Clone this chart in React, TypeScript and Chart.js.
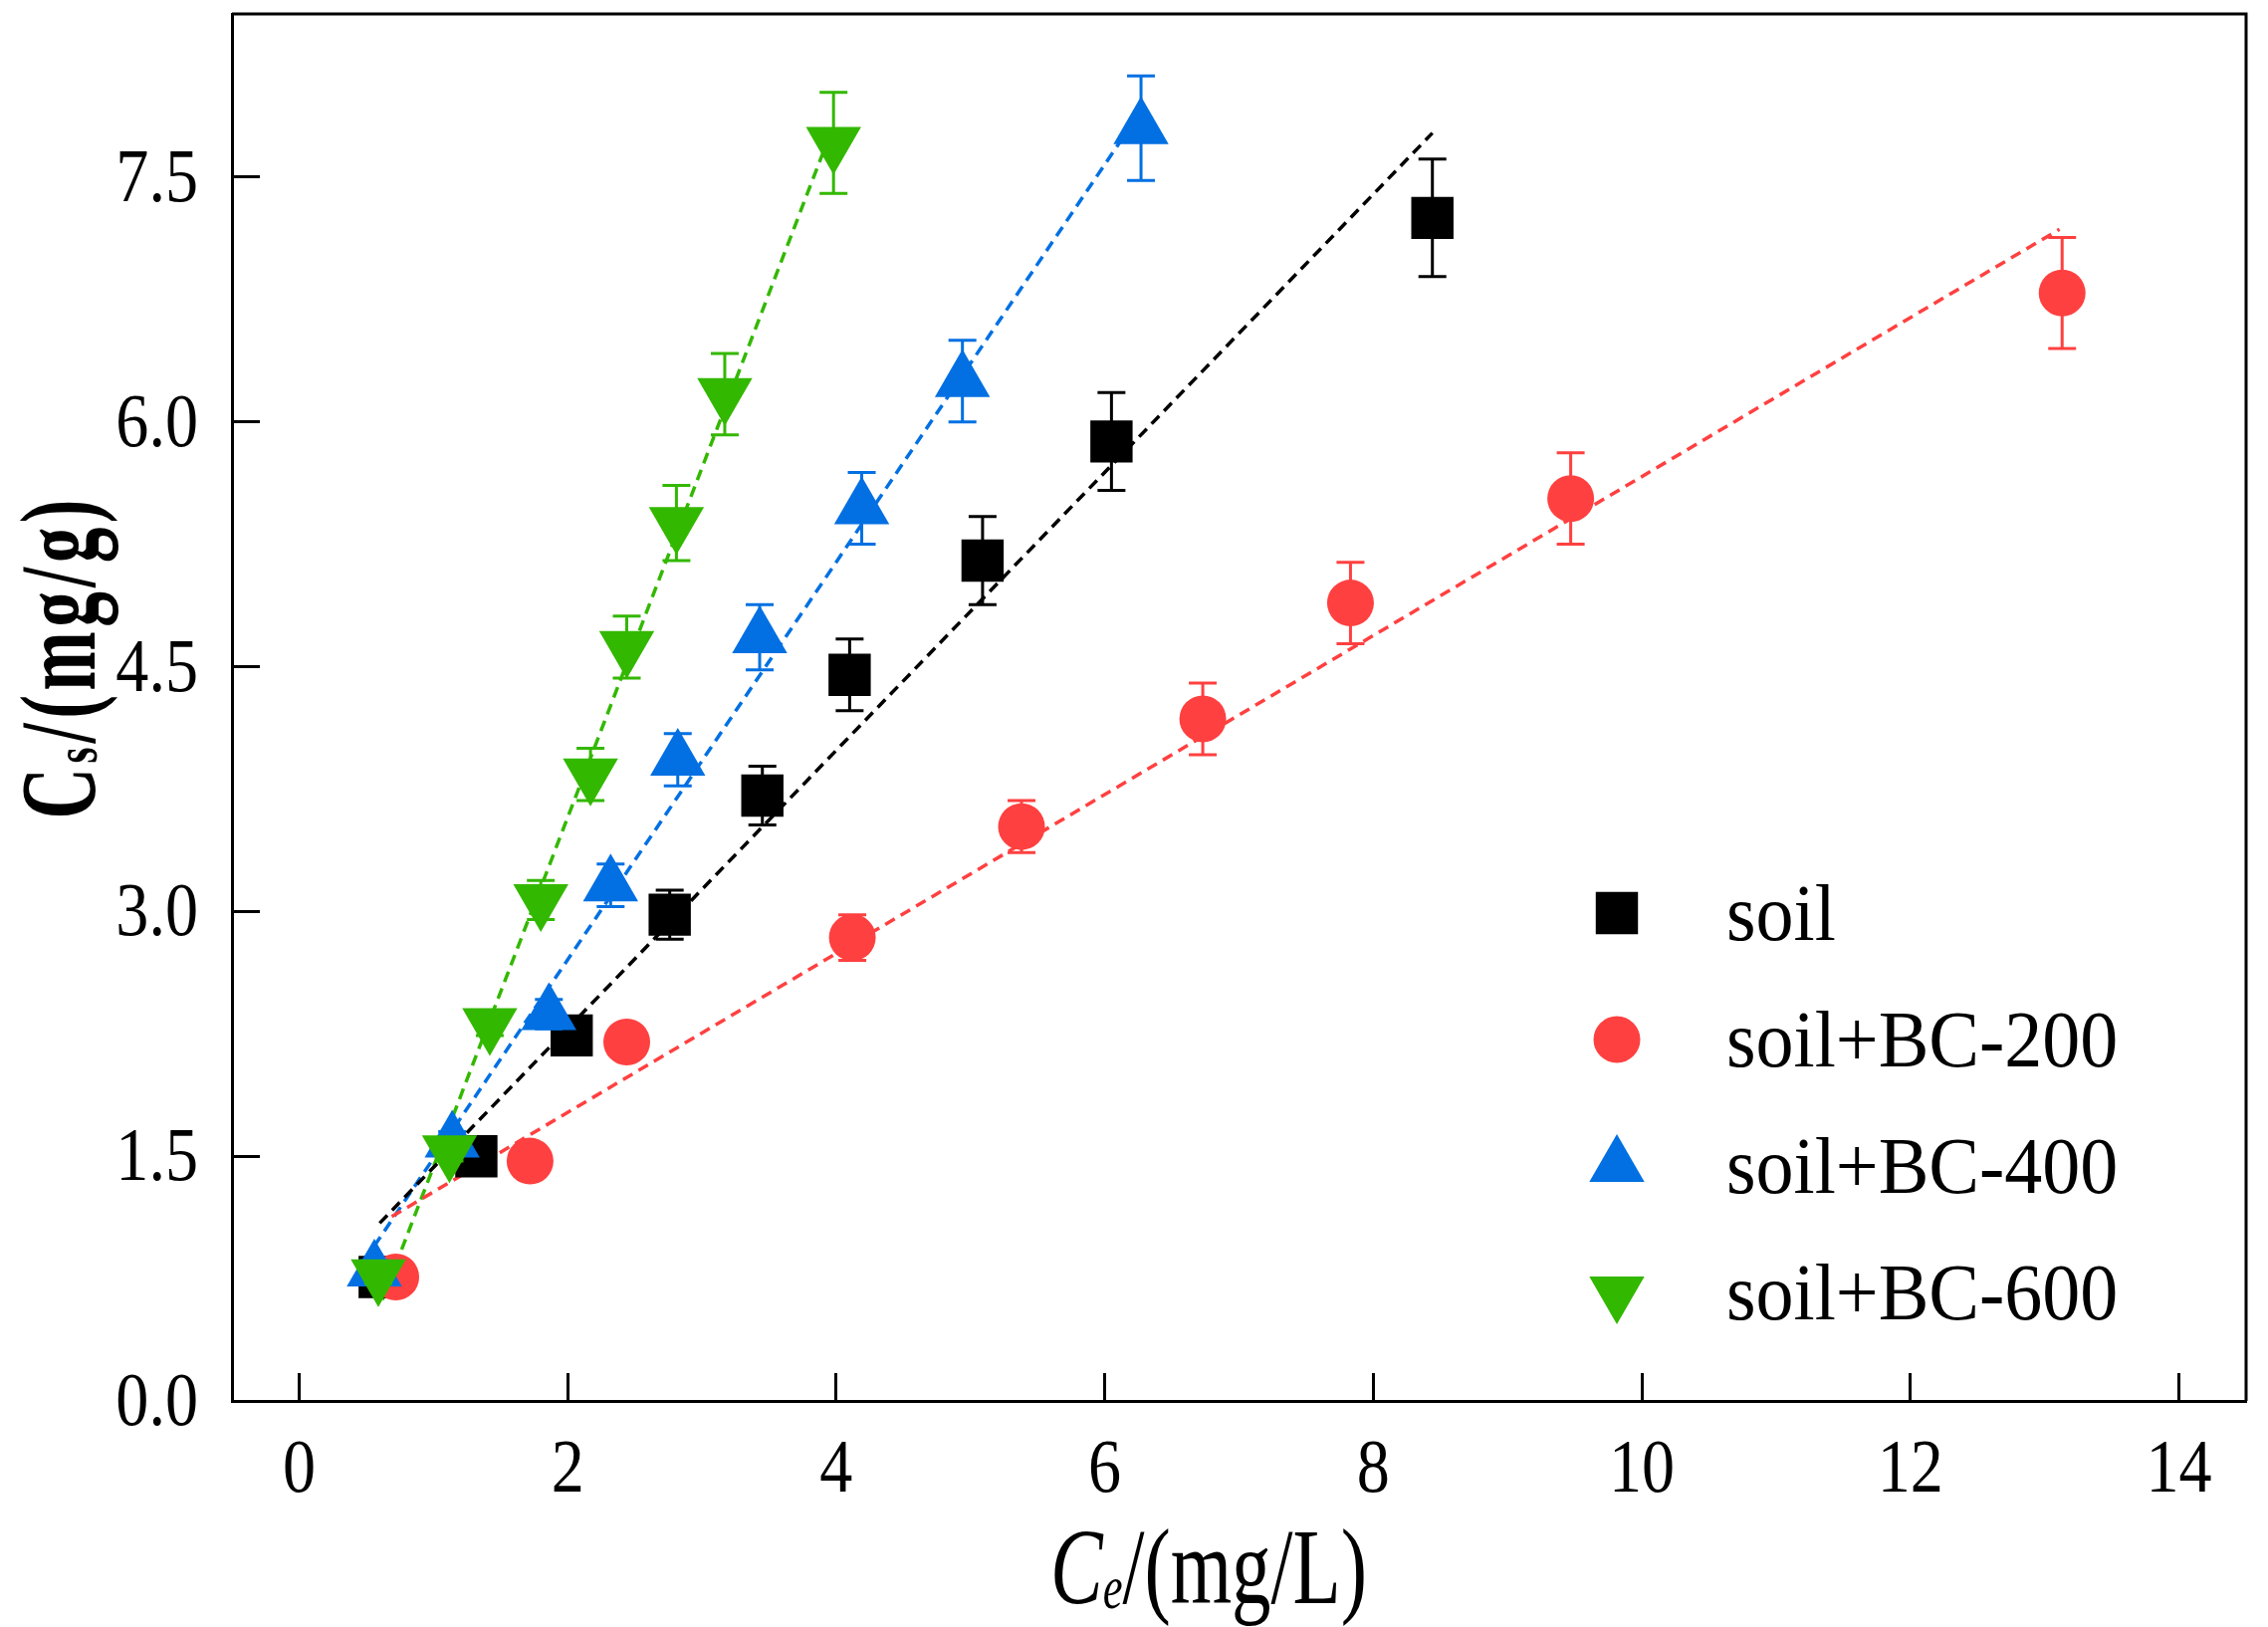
import { useEffect, useRef } from "react";
import { Chart, registerables } from "chart.js";
import { drawPoint } from "chart.js/helpers";

Chart.register(...registerables);

// Ce (mg/L), Cs (mg/g) and error for each treatment
const soilX = [0.6, 1.32, 2.03, 2.76, 3.45, 4.1, 5.09, 6.05, 8.44];
const soilY = [0.76, 1.5, 2.24, 2.98, 3.71, 4.45, 5.15, 5.88, 7.25];
const soilErr = [0.06, 0.06, 0.1, 0.15, 0.18, 0.22, 0.27, 0.3, 0.36];

const bc200X = [0.72, 1.72, 2.44, 4.12, 5.38, 6.73, 7.83, 9.47, 13.13];
const bc200Y = [0.76, 1.47, 2.2, 2.84, 3.52, 4.18, 4.89, 5.53, 6.79];
const bc200Err = [0.05, 0.06, 0.08, 0.14, 0.16, 0.22, 0.25, 0.28, 0.34];

const bc400X = [0.56, 1.14, 1.86, 2.32, 2.82, 3.43, 4.19, 4.94, 6.27];
const bc400Y = [0.8, 1.59, 2.37, 3.16, 3.93, 4.68, 5.47, 6.25, 7.8];
const bc400Err = [0.06, 0.06, 0.09, 0.13, 0.16, 0.2, 0.22, 0.25, 0.32];

const bc600X = [0.59, 1.12, 1.42, 1.8, 2.17, 2.44, 2.81, 3.17, 3.98];
const bc600Y = [0.77, 1.53, 2.31, 3.07, 3.84, 4.62, 5.38, 6.17, 7.71];
const bc600Err = [0.05, 0.06, 0.07, 0.12, 0.16, 0.19, 0.23, 0.25, 0.31];

// fitted lines (dashed), end points
const soilFitX = [0.6, 8.44];
const soilFitY = [1.09, 7.77];
const bc200FitX = [0.69, 13.11];
const bc200FitY = [1.13, 7.18];
const bc400FitX = [0.56, 6.15];
const bc400FitY = [0.95, 7.76];
const bc600FitX = [0.62, 3.93];
const bc600FitY = [0.62, 7.71];

const xTicks = [0, 2, 4, 6, 8, 10, 12, 14];
const yTicks = [0, 1.5, 3, 4.5, 6, 7.5];

const SERIF = "'Liberation Serif', 'Times New Roman', serif";

const series = [
  { label: "soil", x: soilX, y: soilY, err: soilErr, fx: soilFitX, fy: soilFitY, color: "#000000", style: "rect", radius: 30, rotation: 0 },
  { label: "soil+BC-200", x: bc200X, y: bc200Y, err: bc200Err, fx: bc200FitX, fy: bc200FitY, color: "#ff4040", style: "circle", radius: 23.5, rotation: 0 },
  { label: "soil+BC-400", x: bc400X, y: bc400Y, err: bc400Err, fx: bc400FitX, fy: bc400FitY, color: "#0270e2", style: "triangle", radius: 32, rotation: 0 },
  { label: "soil+BC-600", x: bc600X, y: bc600Y, err: bc600Err, fx: bc600FitX, fy: bc600FitY, color: "#33b800", style: "triangle", radius: 32, rotation: 180 },
];

type Run = { text: string; font: string; dy: number };

function runsWidth(ctx: CanvasRenderingContext2D, runs: Run[]) {
  let w = 0;
  for (const r of runs) {
    ctx.font = r.font;
    w += ctx.measureText(r.text).width;
  }
  return w;
}

function charCount(runs: Run[]) {
  return runs.reduce((n, r) => n + r.text.length, 0);
}

// draws text pieces on one baseline, squeezed horizontally by sx,
// with optional extra space (in output px) between characters
function drawRuns(ctx: CanvasRenderingContext2D, runs: Run[], x: number, y: number, sx: number, spacing = 0) {
  ctx.save();
  ctx.translate(x, y);
  ctx.scale(sx, 1);
  ctx.fillStyle = "#000";
  ctx.textBaseline = "alphabetic";
  ctx.textAlign = "left";
  let cx = 0;
  for (const r of runs) {
    ctx.font = r.font;
    if (spacing === 0) {
      ctx.fillText(r.text, cx, r.dy);
      cx += ctx.measureText(r.text).width;
    } else {
      for (const ch of r.text) {
        ctx.fillText(ch, cx, r.dy);
        cx += ctx.measureText(ch).width + spacing / sx;
      }
    }
  }
  ctx.restore();
}

const TICK_FONT = `76px ${SERIF}`;
const TICK_SX = 0.87;

const errorBars = {
  id: "errorBars",
  beforeDatasetDraw(chart: any, args: any) {
    const ds = chart.data.datasets[args.index];
    if (!ds.errors) return;
    const ctx = chart.ctx;
    const yScale = chart.scales.y;
    ctx.save();
    ctx.strokeStyle = ds.backgroundColor;
    ctx.lineWidth = 3;
    args.meta.data.forEach((pt: any, j: number) => {
      const v = ds.data[j].y;
      const e = ds.errors[j];
      const top = yScale.getPixelForValue(v + e);
      const bot = yScale.getPixelForValue(v - e);
      ctx.beginPath();
      ctx.moveTo(pt.x, top);
      ctx.lineTo(pt.x, bot);
      ctx.moveTo(pt.x - 14, top);
      ctx.lineTo(pt.x + 14, top);
      ctx.moveTo(pt.x - 14, bot);
      ctx.lineTo(pt.x + 14, bot);
      ctx.stroke();
    });
    ctx.restore();
  },
};

const decorations = {
  id: "decorations",
  afterDraw(chart: any) {
    const ctx: CanvasRenderingContext2D = chart.ctx;
    const { left, right, top, bottom } = chart.chartArea;

    // box: top and right edges
    ctx.save();
    ctx.strokeStyle = "#000";
    ctx.lineWidth = 3;
    ctx.beginPath();
    ctx.moveTo(left, top);
    ctx.lineTo(right, top);
    ctx.lineTo(right, bottom);
    ctx.stroke();
    ctx.restore();

    // tick labels (narrow serif like the original)
    const xs = chart.scales.x;
    xs.ticks.forEach((t: any) => {
      const runs = [{ text: String(t.value), font: TICK_FONT, dy: 0 }];
      const w = runsWidth(ctx, runs) * TICK_SX;
      drawRuns(ctx, runs, xs.getPixelForValue(t.value) - w / 2, bottom + 91, TICK_SX);
    });
    const ys = chart.scales.y;
    ys.ticks.forEach((t: any) => {
      const runs = [{ text: Number(t.value).toFixed(1), font: TICK_FONT, dy: 0 }];
      const w = runsWidth(ctx, runs) * TICK_SX;
      drawRuns(ctx, runs, left - 34 - w, ys.getPixelForValue(t.value) + 24, TICK_SX);
    });

    // x title: Ce/(mg/L)
    const xRuns: Run[] = [
      { text: "C", font: `italic 108px ${SERIF}`, dy: 0 },
      { text: "e", font: `italic 61px ${SERIF}`, dy: 5 },
      { text: "/(mg/L)", font: `108px ${SERIF}`, dy: 0 },
    ];
    const xw = 318;
    const xsx = xw / runsWidth(ctx, xRuns);
    drawRuns(ctx, xRuns, 1214 - xw / 2, 1610, xsx);

    // y title: Cs/(mg/g), bold, narrow glyphs with loose spacing, rotated
    const yRuns: Run[] = [
      { text: "C", font: `bold 108px ${SERIF}`, dy: 0 },
      { text: "s", font: `bold 62px ${SERIF}`, dy: 2 },
      { text: "/(mg/g)", font: `bold 108px ${SERIF}`, dy: 0 },
    ];
    const yw = 321;
    const ysx = 0.66;
    const ygap = (yw - runsWidth(ctx, yRuns) * ysx) / (charCount(yRuns) - 1);
    ctx.save();
    ctx.translate(95, 662);
    ctx.rotate(-Math.PI / 2);
    drawRuns(ctx, yRuns, -yw / 2, 0, ysx, ygap);
    ctx.restore();

    // legend
    const items = chart.data.datasets.filter((d: any) => d.errors);
    items.forEach((d: any, i: number) => {
      const cy = 917 + i * 127;
      ctx.save();
      ctx.fillStyle = d.backgroundColor;
      drawPoint(ctx, { pointStyle: d.pointStyle, radius: d.pointRadius, rotation: d.pointRotation, borderWidth: 0 } as any, 1624, cy);
      ctx.restore();
      drawRuns(ctx, [{ text: d.label, font: `80px ${SERIF}`, dy: 0 }], 1734, cy + 27, 0.95);
    });
  },
};

export default function App() {
  const chartRef = useRef<HTMLCanvasElement>(null);

  useEffect(() => {
    document.body.style.margin = "0";
    if (!chartRef.current) return;

    const datasets: any[] = [];
    series.forEach((s, i) => {
      datasets.push({
        type: "scatter",
        label: s.label,
        data: s.x.map((v, j) => ({ x: v, y: s.y[j] })),
        errors: s.err,
        backgroundColor: s.color,
        borderColor: s.color,
        borderWidth: 0,
        pointStyle: s.style,
        pointRadius: s.radius,
        pointHoverRadius: s.radius,
        pointRotation: s.rotation,
        order: 4 - i,
      });
      datasets.push({
        type: "line",
        label: "",
        data: s.fx.map((v, j) => ({ x: v, y: s.fy[j] })),
        borderColor: s.color,
        borderWidth: 3.5,
        borderDash: [11, 7],
        pointRadius: 0,
        fill: false,
        order: 10,
      });
    });

    const chart = new Chart(chartRef.current, {
      type: "scatter",
      data: { datasets },
      plugins: [errorBars, decorations],
      options: {
        animation: false,
        responsive: true,
        maintainAspectRatio: false,
        layout: { autoPadding: false, padding: { top: 14, right: 22, left: 0, bottom: 0 } },
        plugins: { legend: { display: false }, tooltip: { enabled: false } },
        scales: {
          x: {
            type: "linear",
            min: -0.5,
            max: 14.5,
            afterBuildTicks: (scale: any) => {
              scale.ticks = xTicks.map((v) => ({ value: v }));
            },
            afterFit: (scale: any) => {
              scale.height = 227;
              scale.paddingLeft = 0;
              scale.paddingRight = 0;
            },
            ticks: { display: false },
            grid: {
              drawOnChartArea: false,
              drawTicks: true,
              tickLength: -28,
              tickWidth: 3,
              tickColor: "#000",
            },
            border: { display: true, color: "#000", width: 3 },
          },
          y: {
            type: "linear",
            min: 0,
            max: 8.5,
            afterBuildTicks: (scale: any) => {
              scale.ticks = yTicks.map((v) => ({ value: v }));
            },
            afterFit: (scale: any) => {
              scale.width = 233;
              scale.paddingTop = 0;
              scale.paddingBottom = 0;
            },
            ticks: { display: false },
            grid: {
              drawOnChartArea: false,
              drawTicks: true,
              tickLength: -28,
              tickWidth: 3,
              tickColor: "#000",
            },
            border: { display: true, color: "#000", width: 3 },
          },
        },
      },
    } as any);

    return () => {
      chart.destroy();
    };
  }, []);

  return (
    <div style={{ position: "fixed", left: 0, top: 0, width: "100vw", height: "100vh", background: "#fff" }}>
      <canvas ref={chartRef} />
    </div>
  );
}
